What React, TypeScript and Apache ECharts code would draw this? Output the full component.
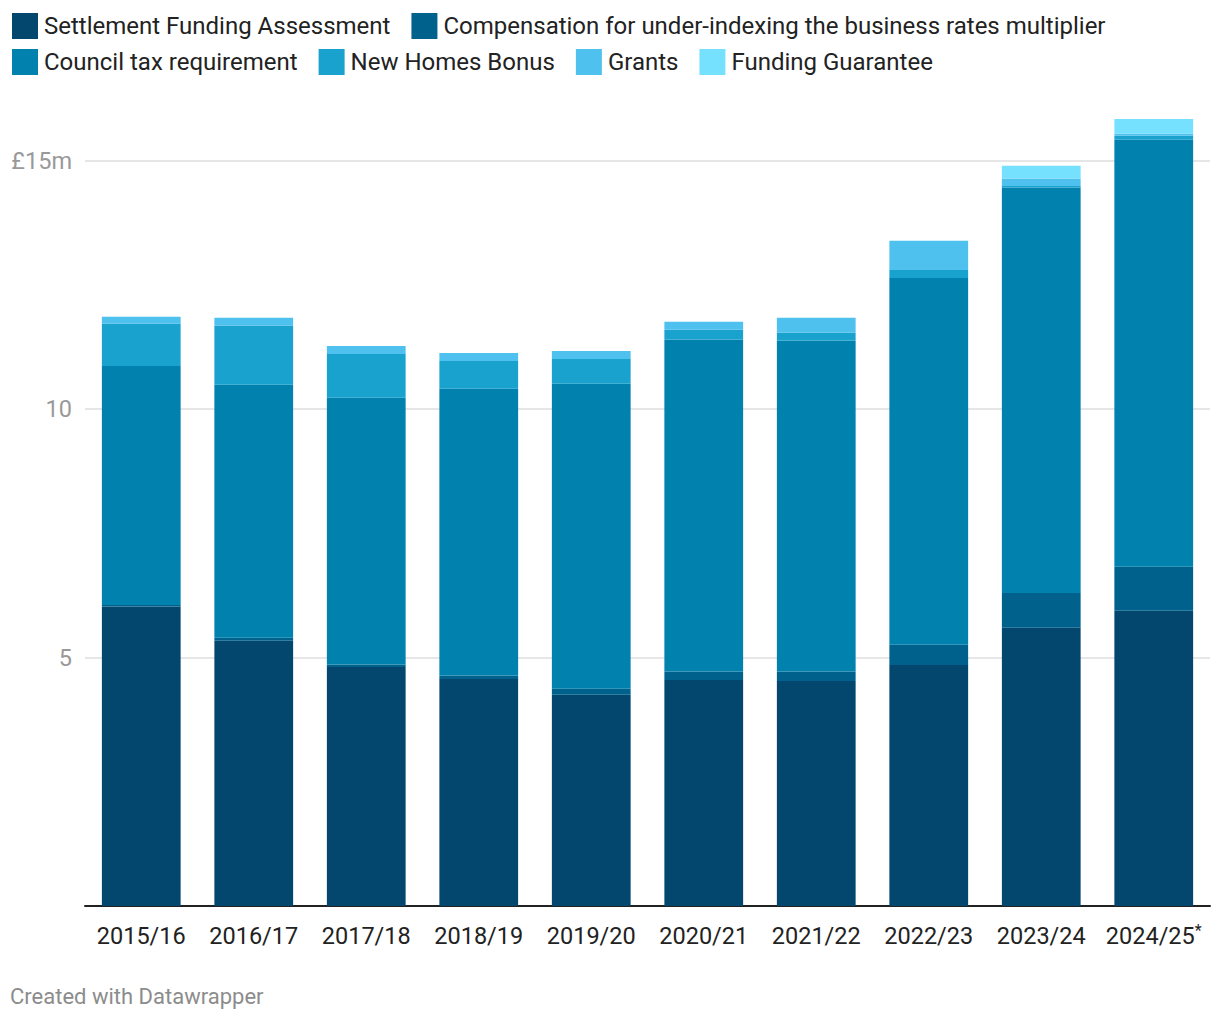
import React, { useEffect, useRef } from "react";
import * as echarts from "echarts";

const categories = ["2015/16", "2016/17", "2017/18", "2018/19", "2019/20", "2020/21", "2021/22", "2022/23", "2023/24", "2024/25"];
const settlementFunding = [6.03, 5.34, 4.81, 4.57, 4.25, 4.55, 4.53, 4.85, 5.6, 5.94];
const compensation = [0.03, 0.06, 0.05, 0.07, 0.12, 0.17, 0.19, 0.41, 0.7, 0.89];
const councilTax = [4.81, 5.09, 5.37, 5.77, 6.14, 6.68, 6.66, 7.38, 8.16, 8.59];
const newHomesBonus = [0.85, 1.19, 0.88, 0.56, 0.5, 0.2, 0.16, 0.16, 0.03, 0.08];
const grants = [0.14, 0.16, 0.16, 0.16, 0.16, 0.16, 0.3, 0.59, 0.15, 0.04];
const fundingGuarantee = [0, 0, 0, 0, 0, 0, 0, 0, 0.26, 0.3];

const seriesNames = [
  "Settlement Funding Assessment",
  "Compensation for under-indexing the business rates multiplier",
  "Council tax requirement",
  "New Homes Bonus",
  "Grants",
  "Funding Guarantee",
];
const seriesData = [settlementFunding, compensation, councilTax, newHomesBonus, grants, fundingGuarantee];
const seriesColors = ["#03476f", "#00628c", "#0181ad", "#1aa2cf", "#4ec1ee", "#76e1ff"];

const FONT = "Roboto, 'Noto Sans', sans-serif";

export default function App() {
  const ref = useRef<HTMLDivElement>(null);
  useEffect(() => {
    document.body.style.margin = "0";
    const chart = echarts.init(ref.current!, null, { renderer: "svg" });
    const legendText = { fontSize: 24, color: "#222", fontFamily: FONT, padding: [0, 0, 0, 1] };
    chart.setOption({
      animation: false,
      textStyle: { fontFamily: FONT },
      legend: [
        {
          data: seriesNames.slice(0, 2),
          left: 12,
          top: 13,
          itemWidth: 26,
          itemHeight: 26,
          itemGap: 21,
          icon: "rect",
          padding: 0,
          selectedMode: false,
          textStyle: legendText,
        },
        {
          data: seriesNames.slice(2),
          left: 12,
          top: 49,
          itemWidth: 26,
          itemHeight: 26,
          itemGap: 21,
          icon: "rect",
          padding: 0,
          selectedMode: false,
          textStyle: legendText,
        },
      ],
      grid: { left: 85, right: 10, top: 111, bottom: 114, containLabel: false },
      xAxis: {
        type: "category",
        data: categories,
        axisTick: { show: false },
        axisLine: { lineStyle: { color: "#222", width: 2 } },
        axisLabel: {
          interval: 0,
          fontSize: 23.5,
          lineHeight: 28,
          color: "#222",
          margin: 16,
          fontFamily: FONT,
          formatter: (v: string) => (v === "2024/25" ? "{n|" + v + "}{sup|*}" : "{n|" + v + "}"),
          rich: {
            n: { fontSize: 23.5, lineHeight: 28, color: "#222", fontFamily: FONT },
            sup: { fontSize: 16, lineHeight: 18, color: "#222", verticalAlign: "top", fontFamily: FONT },
          },
        },
      },
      yAxis: {
        type: "value",
        min: 0,
        max: 16,
        interval: 5,
        axisLine: { show: false },
        axisTick: { show: false },
        splitLine: { showMaxLine: false, showMinLine: false, lineStyle: { color: "#e6e6e6", width: 2 } },
        axisLabel: {
          showMaxLabel: false,
          fontSize: 23.5,
          color: "#999",
          margin: 13,
          fontFamily: FONT,
          formatter: (v: number) => (v === 0 ? "" : v === 15 ? "£15m" : String(v)),
        },
      },
      series: seriesNames.map((name, i) => ({
        name,
        type: "bar",
        stack: "total",
        data: seriesData[i],
        barCategoryGap: "30%",
        itemStyle: { color: seriesColors[i] },
        emphasis: { disabled: true },
      })),
      graphic: [
        {
          type: "text",
          left: 10,
          top: 985,
          style: { text: "Created with Datawrapper", fontSize: 22, fill: "#8c8c8c", fontFamily: FONT },
        },
      ],
    });
    return () => chart.dispose();
  }, []);
  return <div ref={ref} style={{ width: 1220, height: 1020 }} />;
}
